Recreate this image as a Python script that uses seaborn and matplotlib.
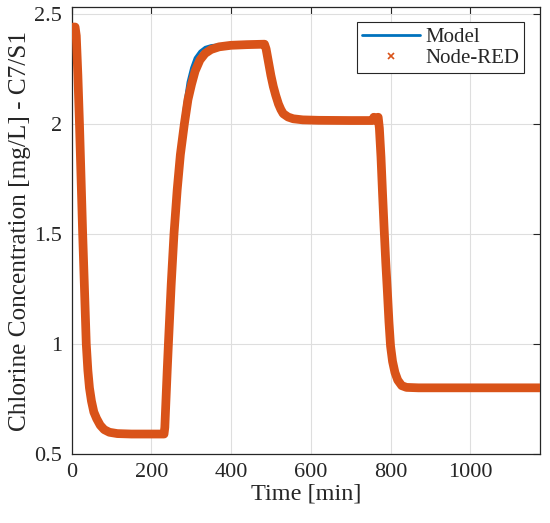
import numpy as np
import pandas as pd
import seaborn as sns
import matplotlib.pyplot as plt
from matplotlib.lines import Line2D

# values (time in min, chlorine in mg/L)
time_min = [0, 4, 9, 12, 16, 20, 24, 28, 32, 37, 41, 45, 50, 56, 63, 72, 82, 95,
            115, 150, 200, 232, 234, 237, 240, 243, 250, 257, 265, 273, 283, 292,
            301, 310, 322, 335, 350, 370, 400, 440, 484, 488, 494, 500, 506, 512,
            519, 525, 531, 543, 556, 580, 620, 700, 755, 758, 762, 766, 769, 772,
            776, 780, 784, 788, 792, 796, 800, 805, 811, 818, 828, 840, 870, 1000,
            1175]

node_red = [2.43, 2.44, 2.44, 2.40, 2.22, 2.00, 1.75, 1.50, 1.28, 1.00, 0.88, 0.80,
            0.74, 0.69, 0.66, 0.63, 0.61, 0.598, 0.592, 0.59, 0.59, 0.59, 0.62, 0.75,
            0.88, 1.00, 1.27, 1.50, 1.70, 1.86, 2.00, 2.11, 2.18, 2.24, 2.29, 2.32,
            2.338, 2.35, 2.357, 2.36, 2.362, 2.34, 2.28, 2.22, 2.17, 2.13, 2.09,
            2.065, 2.046, 2.031, 2.023, 2.018, 2.016, 2.015, 2.015, 2.03, 2.018,
            2.02, 2.03, 1.98, 1.85, 1.68, 1.52, 1.37, 1.24, 1.10, 0.99, 0.92, 0.87,
            0.835, 0.81, 0.802, 0.80, 0.80, 0.80]

model = [2.43, 2.44, 2.44, 2.40, 2.22, 2.00, 1.75, 1.50, 1.28, 1.00, 0.88, 0.80,
         0.74, 0.69, 0.66, 0.63, 0.61, 0.598, 0.592, 0.59, 0.59, 0.59, 0.62, 0.75,
         0.88, 1.00, 1.28, 1.53, 1.75, 1.93, 2.08, 2.19, 2.255, 2.30, 2.33, 2.348,
         2.356, 2.36, 2.361, 2.362, 2.362, 2.34, 2.28, 2.22, 2.17, 2.13, 2.09,
         2.065, 2.046, 2.031, 2.023, 2.018, 2.016, 2.015, 2.015, 2.03, 2.018,
         2.02, 2.03, 1.98, 1.85, 1.68, 1.52, 1.37, 1.24, 1.10, 0.99, 0.92, 0.87,
         0.835, 0.81, 0.802, 0.80, 0.80, 0.80]

x_ticks = [0, 200, 400, 600, 800, 1000]
y_ticks = [0.5, 1, 1.5, 2, 2.5]
y_tick_labels = ["0.5", "1", "1.5", "2", "2.5"]

BLUE = "#0072BD"
ORANGE = "#D95319"
DARK = "#262626"

sns.set_theme(style="whitegrid")
plt.rcParams['font.family'] = ['Liberation Serif', 'DejaVu Serif']
plt.rcParams['axes.edgecolor'] = DARK
plt.rcParams['xtick.color'] = DARK
plt.rcParams['ytick.color'] = DARK

df = pd.DataFrame({"t": time_min, "model": model, "node": node_red})

fig = plt.figure(figsize=(5.5, 5.23), dpi=100)
ax = fig.add_axes([0.130, 0.131, 0.852, 0.856])

sns.lineplot(data=df, x="t", y="model", ax=ax, color=BLUE, lw=2.0,
             estimator=None, sort=False, zorder=2)
# Node-RED samples are so dense in the original that they merge into a band
sns.lineplot(data=df, x="t", y="node", ax=ax, color=ORANGE, lw=6.3,
             estimator=None, sort=False, zorder=3,
             solid_joinstyle="round", solid_capstyle="butt")

ax.set_xlim(0, 1175)
ax.set_ylim(0.497, 2.532)
ax.set_xticks(x_ticks)
ax.set_yticks(y_ticks)
ax.set_yticklabels(y_tick_labels)

ax.grid(True, color="#dedede", lw=0.8)
ax.set_axisbelow(True)
for s in ax.spines.values():
    s.set_visible(True)
    s.set_color(DARK)
    s.set_linewidth(0.9)

ax.tick_params(axis="both", which="major", direction="in", length=5, width=0.8,
               top=True, right=True, labelsize=16, colors=DARK)
ax.tick_params(axis="x", pad=6)
ax.tick_params(axis="y", pad=7)

ax.set_xlabel("Time [min]", fontsize=17.5, color=DARK, labelpad=1)
ax.set_ylabel("Chlorine Concentration [mg/L] - C7/S1", fontsize=18.2, color=DARK,
              labelpad=2)

handles = [Line2D([], [], color=BLUE, lw=2.0),
           Line2D([], [], color=ORANGE, lw=0, marker="x", markersize=5,
                  markeredgewidth=1.2)]
leg = ax.legend(handles, ["Model", "Node-RED"], loc="upper right", fontsize=15,
                frameon=True, fancybox=False, framealpha=1, edgecolor=DARK,
                handlelength=2.8, handletextpad=0.25, borderpad=0.25,
                labelspacing=0.05, borderaxespad=0.75)
leg.get_frame().set_linewidth(0.8)

fig.savefig("out.png", dpi=100)
